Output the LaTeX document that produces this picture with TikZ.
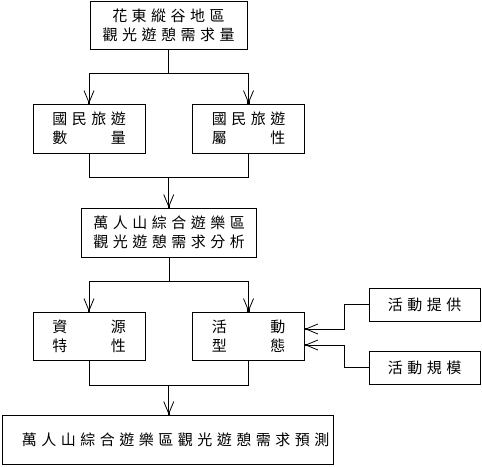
\documentclass[tikz,border=0pt]{standalone}
\usepackage{fontspec}
\newfontfamily\cjk[LetterSpace=30]{Noto Sans CJK TC}
\usetikzlibrary{arrows.meta,calc}
\tikzset{feed/.style={-{Straight Barb[length=12pt,width=10pt,sep=-2.5pt]Square[length=2.5pt,width=2.5pt]}}}
\tikzset{blk/.style={draw,align=center,inner sep=0pt,font={\cjk\fontsize{15pt}{19pt}\selectfont}}}

\begin{document}
\begin{tikzpicture}[x=1pt,y=-1pt,line width=0.8pt]
  \useasboundingbox (0,0) rectangle (482,466);
  % boxes
  \node[blk,minimum width=157pt,minimum height=48pt] (demand) at (168.5,25) {花東縱谷地區\\觀光遊憩需求量};
  \node[blk,minimum width=112pt,minimum height=49pt] (count) at (89,128.5) {國民旅遊\\數　　量};
  \node[blk,minimum width=112pt,minimum height=49pt] (attr) at (248.5,128.5) {國民旅遊\\屬　　性};
  \node[blk,minimum width=175pt,minimum height=49pt] (study) at (169,232.5) {萬人山綜合遊樂區\\觀光遊憩需求分析};
  \node[blk,minimum width=112pt,minimum height=48pt] (res) at (89,336) {資　　源\\特　　性};
  \node[blk,minimum width=112pt,minimum height=48pt] (act) at (248.5,336) {活　　動\\型　　態};
  \node[blk,minimum width=111pt,minimum height=33pt] (offer) at (424.5,304.5) {活動提供};
  \node[blk,minimum width=111pt,minimum height=33pt] (size) at (424.5,367.5) {活動規模};
  \node[blk,minimum width=331pt,minimum height=49pt] (forecast) at (167.5,439.5) {\hspace{16pt}萬人山綜合遊樂區觀光遊憩需求預測};
  % split to the two survey boxes
  \path (demand.south) ++(0,24) coordinate (split1);
  \draw (demand.south) -- (split1);
  \draw[feed] (split1) -| (count.north);
  \draw[feed] (split1) -| (attr.north);
  % join into the analysis
  \path ($(count.south)!0.5!(attr.south)$) ++(0,24) coordinate (join1);
  \draw (count.south) |- (join1) -| (attr.south);
  \draw[feed] (join1) -- (join1 |- study.north);
  % split again
  \path (study.south) ++(0,24) coordinate (split2);
  \draw (study.south) -- (split2);
  \draw[feed] (split2) -| (res.north);
  \draw[feed] (split2) -| (act.north);
  % side inputs
  \draw[feed] (offer.west) -- ++(-24,0) |- ($(act.east)+(0,-7)$);
  \draw[feed] (size.west) -- ++(-24,0) |- ($(act.east)+(0,9)$);
  % join into the forecast
  \path ($(res.south)!0.5!(act.south)$) ++(0,25) coordinate (join2);
  \draw (res.south) |- (join2) -| (act.south);
  \draw[feed] (join2) -- (join2 |- forecast.north);
\end{tikzpicture}
\end{document}
